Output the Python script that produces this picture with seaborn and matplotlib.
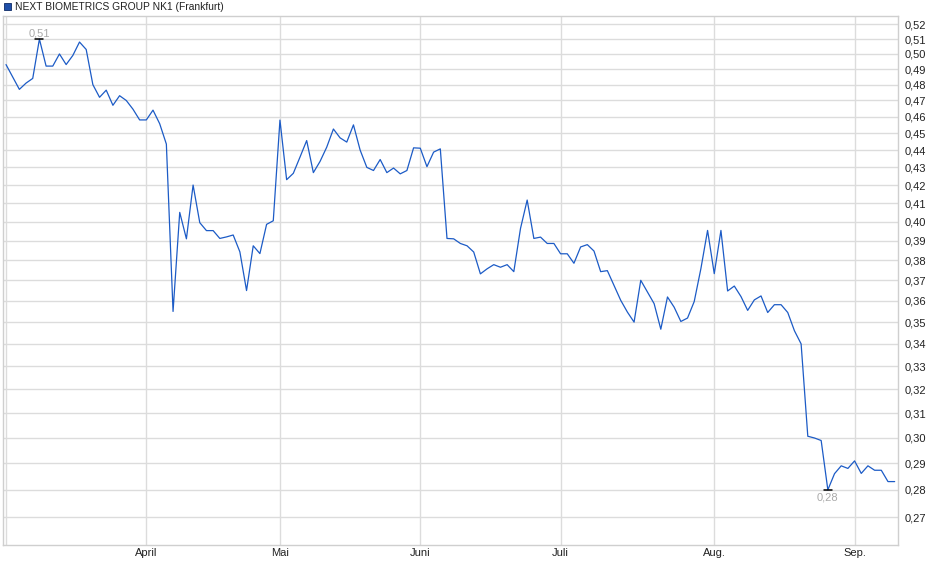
import numpy as np
import pandas as pd
import seaborn as sns
import matplotlib.pyplot as plt
from matplotlib.ticker import FixedLocator, FuncFormatter, NullLocator
from matplotlib.patches import Rectangle

# ---- data (one value per trading day, index-based x axis) ----
prices_mar = [0.493, 0.485, 0.477, 0.481, 0.484, 0.510, 0.492, 0.492, 0.500, 0.493,
              0.499, 0.508, 0.503, 0.480, 0.472, 0.4765, 0.467, 0.473, 0.470, 0.4646,
              0.458]
prices_apr = [0.458, 0.464, 0.4557, 0.4435, 0.355, 0.405, 0.391, 0.420, 0.3995, 0.3953,
              0.3953, 0.3912, 0.392, 0.393, 0.3843, 0.365, 0.3874, 0.3834, 0.3986, 0.4005]
prices_may = [0.4579, 0.423, 0.4266, 0.4359, 0.4456, 0.427, 0.4334, 0.4417, 0.4525, 0.4472,
              0.4447, 0.455, 0.440, 0.430, 0.4282, 0.4345, 0.427, 0.4296, 0.4263, 0.4282,
              0.4413]
prices_jun = [0.4411, 0.4304, 0.4388, 0.4407, 0.3912, 0.391, 0.3886, 0.3874, 0.3842, 0.3732,
              0.3757, 0.3778, 0.3765, 0.3778, 0.3743, 0.3964, 0.4117, 0.3912, 0.3919, 0.3886,
              0.3886]
prices_jul = [0.3833, 0.3833, 0.3785, 0.3868, 0.388, 0.3847, 0.3743, 0.3748, 0.3675, 0.3603,
              0.3547, 0.350, 0.370, 0.3643, 0.3587, 0.3467, 0.3619, 0.357, 0.3503, 0.3519,
              0.3597, 0.3758, 0.3954]
prices_aug = [0.3733, 0.3954, 0.3648, 0.3672, 0.3621, 0.3555, 0.3605, 0.3624, 0.3545, 0.3582,
              0.3582, 0.3545, 0.346, 0.340, 0.3007, 0.300, 0.299, 0.280, 0.2861, 0.2891,
              0.2881]
prices_sep = [0.291, 0.2862, 0.2891, 0.2874, 0.2874, 0.2831, 0.2831]

month_blocks = [prices_mar, prices_apr, prices_may, prices_jun, prices_jul, prices_aug, prices_sep]
month_labels = ["", "April", "Mai", "Juni", "Juli", "Aug.", "Sep."]
y_ticks = [0.27, 0.28, 0.29, 0.30, 0.31, 0.32, 0.33, 0.34, 0.35, 0.36, 0.37, 0.38, 0.39,
           0.40, 0.41, 0.42, 0.43, 0.44, 0.45, 0.46, 0.47, 0.48, 0.49, 0.50, 0.51, 0.52]
title = "NEXT BIOMETRICS GROUP NK1 (Frankfurt)"

prices = [p for block in month_blocks for p in block]
month_starts = list(np.cumsum([0] + [len(b) for b in month_blocks[:-1]]))
df = pd.DataFrame({"i": np.arange(len(prices)), "price": prices})

# ---- style ----
sns.set_style("white")
plt.rcParams["font.family"] = ["Liberation Sans", "DejaVu Sans"]

W, H = 940, 579
fig = plt.figure(figsize=(W / 100, H / 100), dpi=100)
ax = fig.add_axes([3 / W, 1 - 545 / H, 895 / W, 529 / H])

grid_c = "#dcdcdc"
line_c = "#1c5bc6"

sns.lineplot(data=df, x="i", y="price", ax=ax, color=line_c, linewidth=0.9, zorder=3)

ax.set_yscale("log")
ax.set_ylim(0.2602, 0.5259)
ax.set_xlim(-0.45, len(prices) - 0.5)

ax.yaxis.set_major_locator(FixedLocator(y_ticks))
ax.yaxis.set_minor_locator(NullLocator())
ax.yaxis.set_major_formatter(FuncFormatter(lambda v, _: f"{v:.2f}".replace(".", ",")))
ax.yaxis.tick_right()
ax.tick_params(axis="y", length=0, pad=4.5, labelsize=8, labelcolor="#222222")

ax.xaxis.set_major_locator(FixedLocator(month_starts))
ax.xaxis.set_minor_locator(NullLocator())
ax.set_xticklabels(month_labels)
ax.tick_params(axis="x", length=0, pad=2, labelsize=8, labelcolor="#222222")

ax.grid(True, color=grid_c, linewidth=1)
ax.set_axisbelow(True)
ax.set_xlabel("")
ax.set_ylabel("")
for s in ax.spines.values():
    s.set_color("#cfcfcf")
    s.set_linewidth(1)

# ---- max / min markers ----
arr = np.array(prices)
i_max, i_min = int(arr.argmax()), int(arr.argmin())
for idx, off, va in [(i_max, 0.3, "bottom"), (i_min, -2, "top")]:
    v = arr[idx]
    ax.plot([idx - 0.6, idx + 0.6], [v, v], color="black", linewidth=1.1, zorder=4)
    ax.annotate(f"{v:.2f}".replace(".", ","), (idx, v), xytext=(0, off),
                textcoords="offset points", ha="center", va=va,
                color="#aaaaaa", fontsize=8)

# ---- legend-like title ----
fig.patches.append(Rectangle((4 / W, 1 - 10 / H), 7 / W, 7 / H, transform=fig.transFigure,
                             facecolor="#1f4fa8", edgecolor="#0d2a66", linewidth=0.6))
fig.text(15 / W, 1 - 6.5 / H, title, fontsize=7.4, color="#222222", va="center", ha="left")

fig.savefig("out.png", dpi=100)
